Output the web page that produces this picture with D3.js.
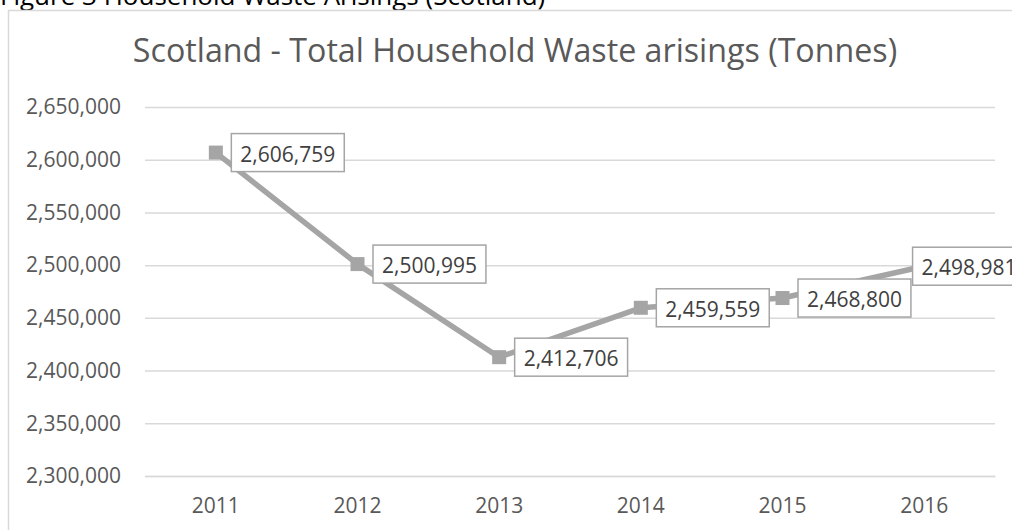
<!DOCTYPE html>
<html><head><meta charset="utf-8">
<script src="https://cdn.jsdelivr.net/npm/d3@7"></script>
<style>body{margin:0;background:#fff;}svg{display:block;}</style>
</head><body>
<svg id="c" width="1012" height="530"></svg>
<script>
const years = ["2011","2012","2013","2014","2015","2016"];
const tonnes = [2606759, 2500995, 2412706, 2459559, 2468800, 2498981];
const yTicks = [2300000, 2350000, 2400000, 2450000, 2500000, 2550000, 2600000, 2650000];
const chartTitle = "Scotland - Total Household Waste arisings (Tonnes)";
const figureCaption = "Figure 3 Household Waste Arisings (Scotland)";

const svg = d3.select("#c");
const font = "'Open Sans', sans-serif";
const fmt = d3.format(",");

// caption above the chart (cut off at top)
svg.append("text").attr("x", 0).attr("y", 5).attr("font-family", font).attr("font-size", 26)
  .attr("fill", "#000").text(figureCaption);

// chart frame
const frameRight = 1025;
svg.append("rect").attr("x", 8.5).attr("y", 10.5).attr("width", frameRight - 8.5).attr("height", 540)
  .attr("fill", "#fff").attr("stroke", "#d9d9d9").attr("stroke-width", 1.5);

// title
svg.append("text").attr("x", 515).attr("y", 62).attr("text-anchor", "middle")
  .attr("font-family", font).attr("font-size", 32.2).attr("fill", "#595959").text(chartTitle);

const x = d3.scaleBand().domain(years).range([145, 995]);
const y = d3.scaleLinear().domain([2300000, 2650000]).range([476, 107]);
const cx = d => x(d) + x.bandwidth() / 2;

// gridlines
const yAxis = d3.axisLeft(y).tickValues(yTicks).tickFormat(fmt).tickSize(-(995 - 145)).tickPadding(24);
const gy = svg.append("g").attr("transform", "translate(145,0)").call(yAxis);
gy.select(".domain").remove();
gy.selectAll(".tick line").attr("stroke", "#d9d9d9").attr("stroke-width", 1.5);
gy.selectAll(".tick text").attr("font-family", font).attr("font-size", 21).attr("fill", "#595959");

// x axis
const xAxis = d3.axisBottom(x).tickSize(0).tickPadding(22);
const gx = svg.append("g").attr("transform", "translate(0,476)").call(xAxis);
gx.select(".domain").attr("stroke", "#d9d9d9").attr("stroke-width", 1.5);
gx.selectAll(".tick text").attr("font-family", font).attr("font-size", 21).attr("fill", "#595959");

// line
const data = years.map((yr, i) => ({yr, v: tonnes[i]}));
svg.append("path").datum(data)
  .attr("d", d3.line().x(d => cx(d.yr)).y(d => y(d.v)))
  .attr("fill", "none").attr("stroke", "#a5a5a5").attr("stroke-width", 5.5).attr("stroke-linejoin", "round");

// markers
svg.selectAll("rect.m").data(data).join("rect").attr("class", "m")
  .attr("x", d => cx(d.yr) - 7).attr("y", d => y(d.v) - 7).attr("width", 14).attr("height", 14)
  .attr("fill", "#a5a5a5");

// data labels
const lg = svg.selectAll("g.lbl").data(data).join("g").attr("class", "lbl");
lg.each(function(d) {
  const g = d3.select(this);
  const rect = g.append("rect");
  const t = g.append("text").attr("font-family", font).attr("font-size", 21).attr("fill", "#404040")
    .attr("dominant-baseline", "central").text(fmt(d.v));
  const w = t.node().getComputedTextLength() + 18;
  const h = 38;
  let left = cx(d.yr) + 15;
  if (left + w > frameRight) left = frameRight - w;
  const cy = y(d.v);
  rect.attr("x", left + 0.5).attr("y", cy - h / 2).attr("width", w).attr("height", h)
    .attr("fill", "#fff").attr("stroke", "#a5a5a5").attr("stroke-width", 1.5);
  t.attr("x", left + 9.5).attr("y", cy + 1);
});
</script>
</body></html>
